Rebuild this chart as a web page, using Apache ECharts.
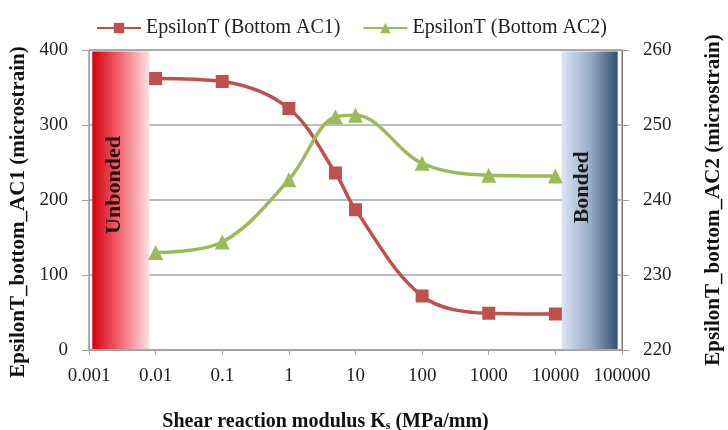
<!DOCTYPE html>
<html>
<head>
<meta charset="utf-8">
<script src="https://cdn.jsdelivr.net/npm/echarts@6/dist/echarts.min.js"></script>
<style>
  html, body { margin: 0; padding: 0; background: #fff; }
  #main { width: 728px; height: 430px; }
</style>
</head>
<body>
<div id="main"></div>
<script>
// Shear reaction modulus (MPa/mm)
let ksValues = [0.01, 0.1, 1, 5, 10, 100, 1000, 10000];
let ac1Values = [362, 358, 322, 236, 187, 72, 49, 48];
let ac2Values = [233, 234.4, 242.7, 251.1, 251.3, 244.9, 243.3, 243.2];
let xTickLabels = ['0.001', '0.01', '0.1', '1', '10', '100', '1000', '10000', '100000'];
let unbondedRange = [0.00112, 0.0081];
let bondedRange = [12400, 86000];

let serif = 'Liberation Serif';

let myChart = echarts.init(document.getElementById('main'));
let option = {
    backgroundColor: '#ffffff',
    animation: false,
    legend: {
        top: 13,
        left: 91,
        itemWidth: 44,
        itemHeight: 13,
        itemGap: 22,
        textStyle: { fontFamily: serif, fontSize: 20, color: '#222' },
        data: ['EpsilonT (Bottom AC1)', 'EpsilonT (Bottom AC2)']
    },
    grid: {
        left: 89, right: 106, top: 50, bottom: 80,
        outerBoundsMode: 'none',
        containLabel: false,
        show: true,
        borderColor: '#6e6e6e',
        borderWidth: 1
    },
    xAxis: {
        type: 'log',
        logBase: 10,
        min: 0.001,
        max: 100000,
        name: '{b|Shear reaction modulus K}{s|s}{b| (MPa/mm)}',
        nameLocation: 'middle',
        nameGap: 62,
        nameTextStyle: {
            padding: [0, 60, 0, 0],
            rich: {
                b: { fontFamily: serif, fontSize: 20, fontWeight: 'bold', color: '#111' },
                s: { fontFamily: serif, fontSize: 12, fontWeight: 'bold', color: '#111', verticalAlign: 'bottom', padding: [8, 0, 0, 0] }
            }
        },
        axisLine: { lineStyle: { color: '#a0a0a0' } },
        axisTick: { show: true, inside: false, length: 5, lineStyle: { color: '#a0a0a0' } },
        axisLabel: {
            margin: 17,
            fontFamily: serif, fontSize: 19, color: '#222',
            formatter: function (v) {
                return xTickLabels[Math.round(Math.log10(v)) + 3];
            }
        },
        minorTick: { show: false },
        splitLine: { show: false }
    },
    yAxis: [{
        type: 'value',
        min: 0, max: 400, interval: 100,
        name: 'EpsilonT_bottom_AC1 (microstrain)',
        nameLocation: 'middle',
        nameGap: 60,
        nameTextStyle: { fontFamily: serif, fontSize: 21, fontWeight: 'bold', color: '#111', padding: [0, 24, 0, 0] },
        axisLine: { show: true, lineStyle: { color: '#a0a0a0' } },
        axisTick: { show: true, length: 7, lineStyle: { color: '#a0a0a0' } },
        axisLabel: { margin: 21, fontFamily: serif, fontSize: 19, color: '#222' },
        splitLine: { show: true, lineStyle: { color: '#a6a6a6', width: 1.5 } }
    }, {
        type: 'value',
        min: 220, max: 260, interval: 10,
        name: 'EpsilonT_bottom_AC2 (microstrain)',
        nameLocation: 'middle',
        nameGap: 81,
        nameRotate: 90,
        nameTextStyle: { fontFamily: serif, fontSize: 21, fontWeight: 'bold', color: '#111' },
        axisLine: { show: true, lineStyle: { color: '#7a7a7a' } },
        axisTick: { show: true, length: 7, lineStyle: { color: '#a0a0a0' } },
        axisLabel: { margin: 21, fontFamily: serif, fontSize: 19, color: '#222' },
        splitLine: { show: false }
    }],
    series: [{
        name: 'EpsilonT (Bottom AC1)',
        type: 'line',
        yAxisIndex: 0,
        smooth: 0.35,
        symbol: 'rect',
        symbolSize: 13,
        z: 3,
        itemStyle: { color: '#c0504d' },
        lineStyle: { color: '#c0504d', width: 3.5 },
        data: ksValues.map(function (k, i) { return [k, ac1Values[i]]; }),
        markArea: {
            silent: true,
            z: 1,
            label: { show: false },
            data: [[{
                xAxis: unbondedRange[0], yAxis: 1.5,
                itemStyle: {
                    color: new echarts.graphic.LinearGradient(0, 0, 1, 0, [
                        { offset: 0, color: '#d2000f' },
                        { offset: 0.5, color: '#f26b74' },
                        { offset: 1, color: '#ffe1e3' }
                    ])
                }
            }, {
                xAxis: unbondedRange[1], yAxis: 398
            }], [{
                xAxis: bondedRange[0], yAxis: 1.5,
                itemStyle: {
                    color: new echarts.graphic.LinearGradient(0, 0, 1, 0, [
                        { offset: 0, color: '#dbe5f4' },
                        { offset: 0.5, color: '#9aaec9' },
                        { offset: 1, color: '#34506f' }
                    ])
                }
            }, {
                xAxis: bondedRange[1], yAxis: 398
            }]]
        }
    }, {
        name: 'EpsilonT (Bottom AC2)',
        type: 'line',
        yAxisIndex: 1,
        smooth: 0.35,
        symbol: 'triangle',
        symbolSize: 15,
        z: 3,
        itemStyle: { color: '#9bbb59' },
        lineStyle: { color: '#9bbb59', width: 3.5 },
        data: ksValues.map(function (k, i) { return [k, ac2Values[i]]; })
    }]
};
myChart.setOption(option);

// band captions, placed through the axes
let unbondedPos = myChart.convertToPixel({ xAxisIndex: 0, yAxisIndex: 0 }, [0.0024, 220]);
let bondedPos = myChart.convertToPixel({ xAxisIndex: 0, yAxisIndex: 0 }, [25000, 217]);
myChart.setOption({
    graphic: [{
        type: 'text', x: unbondedPos[0], y: unbondedPos[1], rotation: Math.PI / 2, z: 10,
        style: { text: 'Unbonded', align: 'center', verticalAlign: 'middle',
                 font: 'bold 22px "Liberation Serif"', fill: '#2a0c0c' }
    }, {
        type: 'text', x: bondedPos[0], y: bondedPos[1], rotation: Math.PI / 2, z: 10,
        style: { text: 'Bonded', align: 'center', verticalAlign: 'middle',
                 font: 'bold 22px "Liberation Serif"', fill: '#1a1a1a' }
    }]
});
</script>
</body>
</html>
